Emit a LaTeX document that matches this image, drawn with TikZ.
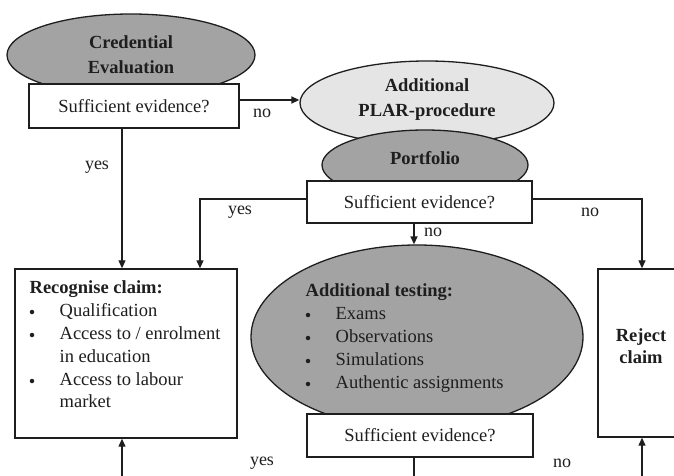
\documentclass[tikz,border=0pt]{standalone}
\usepackage{fontspec}
\setmainfont{Liberation Serif}
\usetikzlibrary{shapes.geometric,arrows.meta}
\definecolor{darkfill}{RGB}{163,163,163}
\definecolor{lightfill}{RGB}{229,229,229}
\definecolor{ink}{RGB}{30,30,30}
\begin{document}
\begin{tikzpicture}[x=1pt,y=-1pt,
  line width=1.3pt, draw=ink,
  every node/.style={font=\fontsize{18.5}{23}\selectfont, inner sep=0pt, text=ink},
  oval/.style={ellipse, draw=ink, line width=1.3pt, inner sep=0pt},
  qbox/.style={draw=ink, fill=white, line width=1.4pt},
  arr/.style={-{Triangle[length=8pt,width=7pt]}},
  ln/.style={text height=12pt, text depth=4pt, anchor=west},
  hd/.style={ln, font=\fontsize{18.5}{23}\selectfont\bfseries},
  dot/.style={circle, fill=ink, minimum size=4.5pt, inner sep=0pt},
  lbl/.style={font=\fontsize{18}{20}\selectfont},
]
\useasboundingbox (0,0) rectangle (674,476);
\clip (0,0) rectangle (674,476);
\fill[white] (0,0) rectangle (674,476);

% --- ellipses and boxes ---
\node[oval, fill=darkfill, minimum width=248, minimum height=82] (cred) at (131,55) {};
\node[font=\fontsize{18.5}{25}\selectfont\bfseries, align=center] (credT) at (131,55) {Credential\\Evaluation};
\node[qbox, minimum width=210, minimum height=44] (box1) at (134,106) {Sufficient evidence?};

\node[oval, fill=lightfill, minimum width=254, minimum height=84] (plar) at (427,103) {};
\node[font=\fontsize{18.5}{25}\selectfont\bfseries, align=center] (plarT) at (427,99.5) {Additional\\PLAR-procedure};
\node[oval, fill=darkfill, minimum width=206, minimum height=70] (port) at (425,165) {};
\node[font=\fontsize{18.5}{23}\selectfont\bfseries] (portT) at (425,158) {Portfolio};
\node[qbox, minimum width=225, minimum height=42] (box2) at (419.5,202) {Sufficient evidence?};

\node[oval, fill=darkfill, minimum width=332, minimum height=184] (test) at (417,337) {};
\node[qbox, minimum width=226, minimum height=43] (box3) at (420,435.5) {Sufficient evidence?};

\node[qbox, minimum width=222, minimum height=169] (rec) at (126,353.5) {};
\node[qbox, minimum width=88, minimum height=168] (reject) at (642,353) {};
\node[font=\fontsize{18.5}{22}\selectfont\bfseries, align=center] (rejT) at (641,346) {Reject\\claim};

% --- recognise list ---
\node[hd] (recH) at (29,289) {Recognise claim:};
\node[dot] (rb1) at (32,312) {};
\node[ln] (rt1) at (59,312) {Qualification};
\node[dot] (rb2) at (32,335) {};
\node[ln] (rt2) at (59,335) {Access to / enrolment};
\node[ln] (rt3) at (59,358) {in education};
\node[dot] (rb3) at (32,381) {};
\node[ln] (rt4) at (59,381) {Access to labour};
\node[ln] (rt5) at (59,403) {market};

% --- testing list ---
\node[hd] (testH) at (305,292) {Additional testing:};
\node[dot] (tb1) at (308,315) {};
\node[ln] (tt1) at (335,315) {Exams};
\node[dot] (tb2) at (308,338) {};
\node[ln] (tt2) at (335,338) {Observations};
\node[dot] (tb3) at (308,361) {};
\node[ln] (tt3) at (335,361) {Simulations};
\node[dot] (tb4) at (308,384) {};
\node[ln] (tt4) at (335,384) {Authentic assignments};

% --- connectors ---
\coordinate (c1) at (122,0);
\coordinate (c2) at (0,100);
\coordinate (c3) at (0,199);
\coordinate (c4) at (200,0);
\coordinate (c5) at (642,0);
\coordinate (c6) at (414,0);
\coordinate (c7) at (0,495);
\draw[arr] (box1.south -| c1) -- (rec.north -| c1);
\draw[arr] (box1.east |- c2) -- (plar.west |- c2);
\draw[arr] (box2.west |- c3) -| (rec.north -| c4);
\draw[arr] (box2.east |- c3) -| (reject.north -| c5);
\draw[arr] (box2.south -| c6) -- (test.north -| c6);
\draw (box3.south -| c6) -- (c6 |- c7);
\draw[arr] (c6 |- c7) -| (rec.south -| c1);
\draw[arr] (c6 |- c7) -| (reject.south -| c5);

% --- labels ---
\node[lbl] (l1) at (262,113) {no};
\node[lbl] (l2) at (97,167) {yes};
\node[lbl] (l3) at (240,212) {yes};
\node[lbl] (l4) at (590,212) {no};
\node[lbl] (l5) at (433,232) {no};
\node[lbl] (l6) at (262,463) {yes};
\node[lbl] (l7) at (562,463) {no};
\end{tikzpicture}
\end{document}
